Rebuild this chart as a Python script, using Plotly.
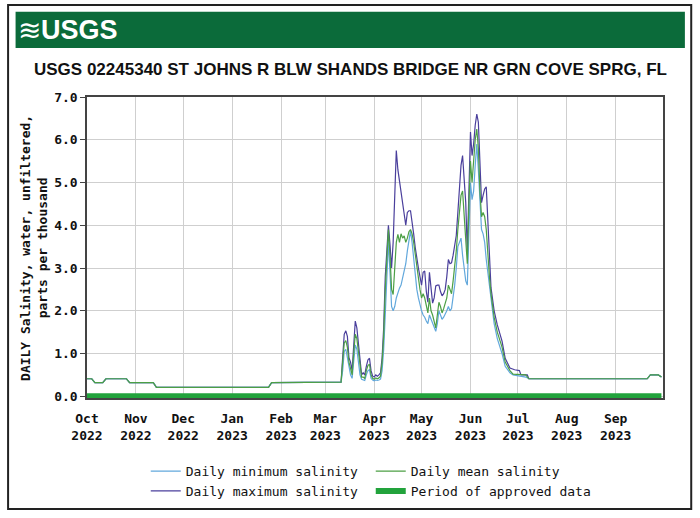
import pandas as pd
import plotly.graph_objects as go

# flat low-salinity stretch before the spring spike (step changes only)
base_dates = ["2022-10-01", "2022-10-04", "2022-10-06", "2022-10-11", "2022-10-13",
              "2022-10-26", "2022-10-28", "2022-11-12", "2022-11-14", "2023-01-24",
              "2023-01-26", "2023-03-10"]
base_vals = [0.41, 0.41, 0.32, 0.32, 0.41, 0.41, 0.32, 0.32, 0.21, 0.21, 0.32, 0.32]

# daily values 2023-03-11 .. 2023-06-14
active_start = "2023-03-11"
max_daily = [0.33, 0.9, 1.45, 1.53, 1.4, 0.9, 0.8, 0.6, 1.2, 1.76, 1.6, 1.2, 0.8, 0.5, 0.55, 0.5, 0.7, 0.85, 0.89, 0.6, 0.47,
             0.45, 0.5, 0.47, 0.5, 0.55, 0.9, 1.6, 2.8, 3.4, 4.0, 3.55, 3.0, 3.6, 4.5, 5.75, 5.3, 5.05, 4.8, 4.5, 4.3,
             4.0, 4.3, 4.34, 4.34, 4.1, 3.8, 3.48, 3.2, 3.0, 2.8,
             2.6, 2.9, 2.93, 2.46, 2.2, 2.9, 2.5, 2.18, 2.3, 2.58, 2.6, 2.6, 2.45, 2.35, 2.4, 2.5, 2.8, 3.2, 3.1, 3.12,
             3.3, 3.5, 3.76, 4.3, 5.0, 5.4, 5.63, 5.1, 4.53, 3.36, 4.8,
             6.18, 5.63, 5.9, 6.34, 6.6, 6.41, 5.32, 4.53, 4.7, 4.85, 4.9, 4.0, 3.08, 2.54]
mean_daily = [0.33, 0.8, 1.25, 1.3, 1.15, 0.8, 0.65, 0.5, 1.0, 1.45, 1.35, 1.0, 0.65, 0.45, 0.45, 0.42, 0.6, 0.72, 0.75, 0.5, 0.42,
              0.4, 0.43, 0.41, 0.43, 0.47, 0.8, 1.4, 2.5, 3.2, 3.9, 3.3, 2.5, 2.38, 3.0, 3.6, 3.79, 3.6, 3.8, 3.7, 3.75,
              3.6, 3.7, 3.85, 3.9, 3.8, 3.6, 3.3, 3.0, 2.7, 2.5,
              2.3, 2.4, 2.3, 2.1, 1.95, 2.3, 2.0, 1.9, 1.75, 1.6, 1.9, 2.2, 2.1, 1.95, 2.05, 2.2, 2.3, 2.6, 2.5, 2.4,
              2.7, 3.0, 3.4, 3.9, 4.4, 4.7, 4.8, 4.3, 3.8, 3.1, 4.5,
              5.5, 5.0, 5.6, 6.0, 6.25, 5.8, 4.8, 4.2, 4.3, 4.2, 3.9, 3.3, 2.8, 2.4]
min_daily = [0.33, 0.6, 1.05, 1.1, 0.9, 0.65, 0.5, 0.42, 0.8, 1.2, 1.1, 0.8, 0.5, 0.4, 0.38, 0.37, 0.5, 0.6, 0.62, 0.42, 0.38,
             0.36, 0.38, 0.37, 0.38, 0.4, 0.6, 1.1, 1.9, 2.9, 3.63, 2.9, 2.1, 2.0, 2.1, 2.3, 2.45, 2.53, 2.6, 2.75, 2.93,
             3.1, 3.4, 3.7, 3.87, 3.6, 3.17, 2.8, 2.5, 2.3, 2.14,
             2.0, 1.9, 1.85, 1.76, 1.7, 1.9, 1.8, 1.7, 1.6, 1.52, 1.7, 2.0, 1.9, 1.8, 1.85, 1.95, 2.0, 2.1, 2.0, 2.05,
             2.3, 2.6, 3.0, 3.5, 3.6, 3.7, 3.3, 3.0, 2.7, 2.6, 4.0,
             5.0, 4.6, 4.8, 5.4, 5.9, 5.3, 4.4, 3.9, 3.8, 3.6, 3.2, 2.9, 2.5, 2.2]

# recession after the June peak
max_rec_dates = ["2023-06-16", "2023-06-18", "2023-06-21", "2023-06-23", "2023-06-26", "2023-06-29", "2023-07-02", "2023-07-03", "2023-07-07"]
max_rec_vals = [2.0, 1.67, 1.29, 0.89, 0.66, 0.62, 0.6, 0.5, 0.5]
mean_rec_dates = ["2023-06-16", "2023-06-18", "2023-06-21", "2023-06-23", "2023-06-26", "2023-06-28", "2023-07-06"]
mean_rec_vals = [1.85, 1.5, 1.15, 0.8, 0.6, 0.52, 0.5]
min_rec_dates = ["2023-06-16", "2023-06-18", "2023-06-21", "2023-06-23", "2023-06-26", "2023-06-28", "2023-07-06"]
min_rec_vals = [1.7, 1.35, 1.0, 0.7, 0.55, 0.5, 0.45]

tail_dates = ["2023-07-08", "2023-09-21", "2023-09-23", "2023-09-28", "2023-09-30"]
tail_vals = [0.41, 0.41, 0.5, 0.5, 0.45]

approved_dates = ["2022-10-01", "2023-09-30"]
approved_vals = [0, 0]

tick_dates = ["2022-10-01", "2022-11-01", "2022-12-01", "2023-01-01", "2023-02-01", "2023-03-01",
              "2023-04-01", "2023-05-01", "2023-06-01", "2023-07-01", "2023-08-01", "2023-09-01"]
tick_text = ["Oct<br>2022", "Nov<br>2022", "Dec<br>2022", "Jan<br>2023", "Feb<br>2023", "Mar<br>2023",
             "Apr<br>2023", "May<br>2023", "Jun<br>2023", "Jul<br>2023", "Aug<br>2023", "Sep<br>2023"]
y_ticks = [0, 1, 2, 3, 4, 5, 6, 7]
y_tick_text = ["0.0", "1.0", "2.0", "3.0", "4.0", "5.0", "6.0", "7.0"]

active_dates = list(pd.date_range(active_start, periods=len(max_daily), freq="D").strftime("%Y-%m-%d"))


def series(daily, rec_d, rec_v):
    return base_dates + active_dates + rec_d + tail_dates, base_vals + daily + rec_v + tail_vals


mono = "DejaVu Sans Mono"
sans = "Liberation Sans"
fig = go.Figure()
# drawing order: max underneath, mean on top; legend order via legendrank
x, y = series(max_daily, max_rec_dates, max_rec_vals)
fig.add_trace(go.Scatter(x=x, y=y, mode="lines", name="Daily maximum salinity", legendrank=3,
                         line=dict(color="#4a3f9c", width=1.2)))
x, y = series(min_daily, min_rec_dates, min_rec_vals)
fig.add_trace(go.Scatter(x=x, y=y, mode="lines", name="Daily minimum salinity", legendrank=1,
                         line=dict(color="#62a8dc", width=1.2)))
x, y = series(mean_daily, mean_rec_dates, mean_rec_vals)
fig.add_trace(go.Scatter(x=x, y=y, mode="lines", name="Daily mean salinity", legendrank=2,
                         line=dict(color="#4c9f45", width=1.2)))
fig.add_trace(go.Scatter(x=approved_dates, y=approved_vals, mode="lines", name="Period of approved data",
                         legendrank=4, line=dict(color="#22a33c", width=6)))

# header bar, logo, outer frame
fig.add_shape(type="rect", xref="paper", yref="paper", x0=-0.137, x1=1.049, y0=-0.369, y1=1.306,
              line=dict(color="#222", width=2), fillcolor="rgba(0,0,0,0)", layer="below")
fig.add_shape(type="rect", xref="paper", yref="paper", x0=-0.124, x1=1.038, y0=1.163, y1=1.283,
              line=dict(width=0), fillcolor="#0b6b3a", layer="below")
fig.add_annotation(xref="paper", yref="paper", x=-0.123, y=1.222, xanchor="left", yanchor="middle",
                   text="≋", showarrow=False, font=dict(family="DejaVu Sans", size=28, color="white"))
fig.add_annotation(xref="paper", yref="paper", x=-0.083, y=1.222, xanchor="left", yanchor="middle",
                   text="<b>USGS</b>", showarrow=False,
                   font=dict(family=sans, size=27, color="white"))
fig.add_annotation(xref="paper", yref="paper", x=0.4566, y=1.09, xanchor="center", yanchor="middle",
                   text="<b>USGS 02245340 ST JOHNS R BLW SHANDS BRIDGE NR GRN COVE SPRG, FL</b>", showarrow=False,
                   font=dict(family=sans, size=17, color="#111"))
fig.add_annotation(xref="paper", yref="paper", x=-0.093, y=0.5, xanchor="center", yanchor="middle",
                   textangle=-90, showarrow=False,
                   text="<b>DAILY Salinity, water, unfiltered,<br>parts per thousand</b>",
                   font=dict(family=mono, size=13, color="#111"))

fig.update_layout(
    width=700, height=518,
    margin=dict(l=87, r=37, t=97, b=120),
    paper_bgcolor="white", plot_bgcolor="white",
    showlegend=True,
    legend=dict(orientation="h", x=0.102, y=-0.193, xanchor="left", yanchor="top",
                entrywidth=180, entrywidthmode="pixels", traceorder="normal", tracegroupgap=0,
                font=dict(family=mono, size=13, color="#111")),
)
fig.update_xaxes(range=["2022-10-01", "2023-10-01"], tickvals=tick_dates,
                 ticktext=["<b>%s</b>" % t.replace("<br>", "</b><br><b>") for t in tick_text],
                 showgrid=True, gridcolor="#cfcfcf", gridwidth=1,
                 showline=True, linecolor="#444", linewidth=1.5, mirror=True,
                 ticks="", ticklabelstandoff=8, tickfont=dict(family=mono, size=13, color="#111"), tickangle=0)
fig.update_yaxes(range=[-0.04, 7.0], tickvals=y_ticks, ticktext=["<b>%s</b>" % t for t in y_tick_text],
                 showgrid=True, gridcolor="#cfcfcf", gridwidth=1, zeroline=False,
                 showline=True, linecolor="#444", linewidth=1.5, mirror=True,
                 ticks="outside", ticklen=5, tickcolor="#444",
                 tickfont=dict(family=mono, size=13, color="#111"))
for t in fig.data:
    t.update(hoverinfo="skip")

fig.write_html("out.html", config={"displayModeBar": False},
               post_script="document.body.style.margin='0';")
